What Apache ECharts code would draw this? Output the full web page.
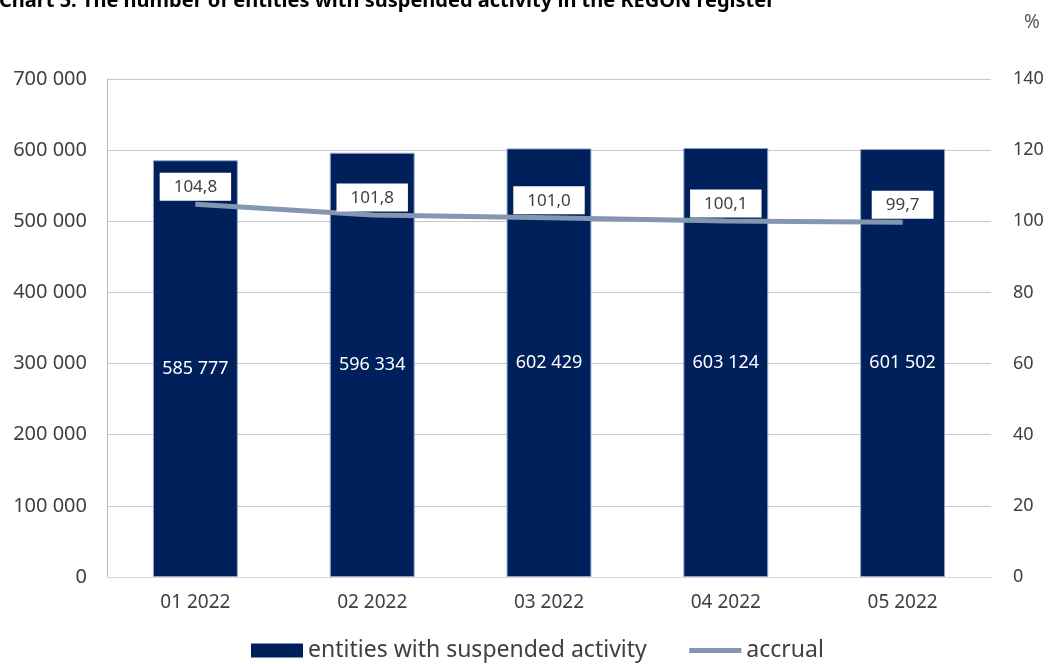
<!DOCTYPE html>
<html>
<head>
<meta charset="utf-8">
<script src="https://cdn.jsdelivr.net/npm/echarts@6/dist/echarts.min.js"></script>
<style>html,body{margin:0;padding:0;background:#fff;}#c{width:1049px;height:664px;}</style>
</head>
<body>
<div id="c"></div>
<script>
const categories = ['01 2022', '02 2022', '03 2022', '04 2022', '05 2022'];
const suspended = [585777, 596334, 602429, 603124, 601502];
const accrual = [104.8, 101.8, 101.0, 100.1, 99.7];
const titleText = 'Chart 5. The number of entities with suspended activity in the REGON register';

const fmtThousands = v => String(v).replace(/\B(?=(\d{3})+(?!\d))/g, ' ');
const fmtDec = v => v.toFixed(1).replace('.', ',');
const FONT = 'Noto Sans';
const chart = echarts.init(document.getElementById('c'));
chart.setOption({
  animation: false,
  textStyle: { fontFamily: FONT },
  title: {
    text: titleText, left: -6, top: -14,
    textStyle: { fontFamily: FONT, fontSize: 20, fontWeight: 'bold', color: '#000' }
  },
  graphic: [{
    type: 'text', left: 1024, top: 13,
    style: { text: '%', fontFamily: FONT, fontSize: 19, fill: '#595959' }
  }],
  grid: { left: 107, right: 58, top: 79, bottom: 87 },
  legend: {
    bottom: -3, left: 246, itemGap: 40, itemWidth: 52, itemHeight: 14,
    textStyle: { fontFamily: FONT, fontSize: 23, color: '#404040' },
    data: [
      { name: 'entities with suspended activity', icon: 'rect', itemStyle: { borderWidth: 0 } },
      { name: 'accrual', itemStyle: { color: 'rgba(0,0,0,0)', borderWidth: 0 }, lineStyle: { width: 5, color: '#8497b0' } }
    ]
  },
  xAxis: {
    type: 'category', data: categories,
    axisLine: { lineStyle: { color: '#d9d9d9' } },
    axisTick: { show: false },
    axisLabel: { fontFamily: FONT, fontSize: 19, color: '#404040', margin: 16 }
  },
  yAxis: [{
    type: 'value', min: 0, max: 700000, interval: 100000,
    axisLine: { show: true, lineStyle: { color: '#a9b8d0' } },
    axisTick: { show: false },
    splitLine: { lineStyle: { color: '#c8c8c8' } },
    axisLabel: { fontFamily: FONT, fontSize: 20, color: '#404040', margin: 20, formatter: v => fmtThousands(v) }
  }, {
    type: 'value', min: 0, max: 140, interval: 20,
    axisLine: { show: false }, axisTick: { show: false }, splitLine: { show: false },
    axisLabel: { fontFamily: FONT, fontSize: 18, color: '#404040', margin: 22 }
  }],
  series: [{
    name: 'entities with suspended activity', type: 'bar', data: suspended,
    barWidth: '48%',
    itemStyle: { color: '#00205b', borderColor: '#8ea5c8', borderWidth: 1 },
    label: { show: true, position: 'inside', color: '#fff', fontFamily: FONT, fontSize: 18,
      formatter: p => fmtThousands(p.value) }
  }, {
    name: 'accrual', type: 'line', yAxisIndex: 1, data: accrual,
    symbol: 'circle', symbolSize: 1, showSymbol: true,
    lineStyle: { color: '#8497b0', width: 5 },
    itemStyle: { color: '#8497b0' },
    label: { show: true, position: 'top', distance: 3, color: '#404040', fontFamily: FONT, fontSize: 17,
      backgroundColor: '#fff', padding: [6, 14, 5, 14], formatter: p => fmtDec(p.value) }
  }]
});
</script>
</body>
</html>
